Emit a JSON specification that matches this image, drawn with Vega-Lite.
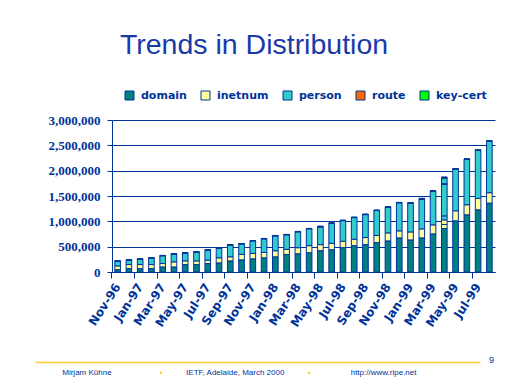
{
  "$schema": "https://vega.github.io/schema/vega-lite/v6.json",
  "background": "white",
  "padding": {"left": 5, "top": 30, "right": 10, "bottom": 5},
  "title": {"text": "Trends in Distribution", "fontSize": 28.5, "font": "Liberation Sans", "fontWeight": "normal", "color": "#1a3aa8", "anchor": "middle", "dx": -27, "offset": 31},
  "config": {"view": {"stroke": null}, "font": "Liberation Sans"},
  "spacing": 27,
  "vconcat": [
    {
      "width": 383,
      "height": 152,
      "data": {"values": [
        {"month": "Nov-96", "type": "domain", "count": 47000, "seg": 1},
        {"month": "Nov-96", "type": "inetnum", "count": 73000, "seg": 2},
        {"month": "Nov-96", "type": "person", "count": 93000, "seg": 3},
        {"month": "Nov-96", "type": "route", "count": 5000, "seg": 4},
        {"month": "Nov-96", "type": "key-cert", "count": 3000, "seg": 5},
        {"month": "Dec-96", "type": "domain", "count": 67000, "seg": 1},
        {"month": "Dec-96", "type": "inetnum", "count": 80000, "seg": 2},
        {"month": "Dec-96", "type": "person", "count": 87000, "seg": 3},
        {"month": "Dec-96", "type": "route", "count": 5000, "seg": 4},
        {"month": "Dec-96", "type": "key-cert", "count": 3000, "seg": 5},
        {"month": "Jan-97", "type": "domain", "count": 67000, "seg": 1},
        {"month": "Jan-97", "type": "inetnum", "count": 80000, "seg": 2},
        {"month": "Jan-97", "type": "person", "count": 107000, "seg": 3},
        {"month": "Jan-97", "type": "route", "count": 5000, "seg": 4},
        {"month": "Jan-97", "type": "key-cert", "count": 3000, "seg": 5},
        {"month": "Feb-97", "type": "domain", "count": 67000, "seg": 1},
        {"month": "Feb-97", "type": "inetnum", "count": 80000, "seg": 2},
        {"month": "Feb-97", "type": "person", "count": 127000, "seg": 3},
        {"month": "Feb-97", "type": "route", "count": 5000, "seg": 4},
        {"month": "Feb-97", "type": "key-cert", "count": 3000, "seg": 5},
        {"month": "Mar-97", "type": "domain", "count": 100000, "seg": 1},
        {"month": "Mar-97", "type": "inetnum", "count": 67000, "seg": 2},
        {"month": "Mar-97", "type": "person", "count": 153000, "seg": 3},
        {"month": "Mar-97", "type": "route", "count": 5000, "seg": 4},
        {"month": "Mar-97", "type": "key-cert", "count": 3000, "seg": 5},
        {"month": "Apr-97", "type": "domain", "count": 100000, "seg": 1},
        {"month": "Apr-97", "type": "inetnum", "count": 100000, "seg": 2},
        {"month": "Apr-97", "type": "person", "count": 153000, "seg": 3},
        {"month": "Apr-97", "type": "route", "count": 5000, "seg": 4},
        {"month": "Apr-97", "type": "key-cert", "count": 3000, "seg": 5},
        {"month": "May-97", "type": "domain", "count": 147000, "seg": 1},
        {"month": "May-97", "type": "inetnum", "count": 73000, "seg": 2},
        {"month": "May-97", "type": "person", "count": 153000, "seg": 3},
        {"month": "May-97", "type": "route", "count": 5000, "seg": 4},
        {"month": "May-97", "type": "key-cert", "count": 3000, "seg": 5},
        {"month": "Jun-97", "type": "domain", "count": 147000, "seg": 1},
        {"month": "Jun-97", "type": "inetnum", "count": 73000, "seg": 2},
        {"month": "Jun-97", "type": "person", "count": 173000, "seg": 3},
        {"month": "Jun-97", "type": "route", "count": 5000, "seg": 4},
        {"month": "Jun-97", "type": "key-cert", "count": 3000, "seg": 5},
        {"month": "Jul-97", "type": "domain", "count": 167000, "seg": 1},
        {"month": "Jul-97", "type": "inetnum", "count": 67000, "seg": 2},
        {"month": "Jul-97", "type": "person", "count": 200000, "seg": 3},
        {"month": "Jul-97", "type": "route", "count": 5000, "seg": 4},
        {"month": "Jul-97", "type": "key-cert", "count": 3000, "seg": 5},
        {"month": "Aug-97", "type": "domain", "count": 180000, "seg": 1},
        {"month": "Aug-97", "type": "inetnum", "count": 100000, "seg": 2},
        {"month": "Aug-97", "type": "person", "count": 187000, "seg": 3},
        {"month": "Aug-97", "type": "route", "count": 5000, "seg": 4},
        {"month": "Aug-97", "type": "key-cert", "count": 3000, "seg": 5},
        {"month": "Sep-97", "type": "domain", "count": 220000, "seg": 1},
        {"month": "Sep-97", "type": "inetnum", "count": 80000, "seg": 2},
        {"month": "Sep-97", "type": "person", "count": 233000, "seg": 3},
        {"month": "Sep-97", "type": "route", "count": 5000, "seg": 4},
        {"month": "Sep-97", "type": "key-cert", "count": 3000, "seg": 5},
        {"month": "Oct-97", "type": "domain", "count": 240000, "seg": 1},
        {"month": "Oct-97", "type": "inetnum", "count": 107000, "seg": 2},
        {"month": "Oct-97", "type": "person", "count": 207000, "seg": 3},
        {"month": "Oct-97", "type": "route", "count": 5000, "seg": 4},
        {"month": "Oct-97", "type": "key-cert", "count": 3000, "seg": 5},
        {"month": "Nov-97", "type": "domain", "count": 260000, "seg": 1},
        {"month": "Nov-97", "type": "inetnum", "count": 107000, "seg": 2},
        {"month": "Nov-97", "type": "person", "count": 247000, "seg": 3},
        {"month": "Nov-97", "type": "route", "count": 5000, "seg": 4},
        {"month": "Nov-97", "type": "key-cert", "count": 3000, "seg": 5},
        {"month": "Dec-97", "type": "domain", "count": 280000, "seg": 1},
        {"month": "Dec-97", "type": "inetnum", "count": 107000, "seg": 2},
        {"month": "Dec-97", "type": "person", "count": 267000, "seg": 3},
        {"month": "Dec-97", "type": "route", "count": 5000, "seg": 4},
        {"month": "Dec-97", "type": "key-cert", "count": 3000, "seg": 5},
        {"month": "Jan-98", "type": "domain", "count": 300000, "seg": 1},
        {"month": "Jan-98", "type": "inetnum", "count": 120000, "seg": 2},
        {"month": "Jan-98", "type": "person", "count": 293000, "seg": 3},
        {"month": "Jan-98", "type": "route", "count": 5000, "seg": 4},
        {"month": "Jan-98", "type": "key-cert", "count": 3000, "seg": 5},
        {"month": "Feb-98", "type": "domain", "count": 347000, "seg": 1},
        {"month": "Feb-98", "type": "inetnum", "count": 100000, "seg": 2},
        {"month": "Feb-98", "type": "person", "count": 287000, "seg": 3},
        {"month": "Feb-98", "type": "route", "count": 5000, "seg": 4},
        {"month": "Feb-98", "type": "key-cert", "count": 3000, "seg": 5},
        {"month": "Mar-98", "type": "domain", "count": 360000, "seg": 1},
        {"month": "Mar-98", "type": "inetnum", "count": 120000, "seg": 2},
        {"month": "Mar-98", "type": "person", "count": 313000, "seg": 3},
        {"month": "Mar-98", "type": "route", "count": 5000, "seg": 4},
        {"month": "Mar-98", "type": "key-cert", "count": 3000, "seg": 5},
        {"month": "Apr-98", "type": "domain", "count": 380000, "seg": 1},
        {"month": "Apr-98", "type": "inetnum", "count": 140000, "seg": 2},
        {"month": "Apr-98", "type": "person", "count": 333000, "seg": 3},
        {"month": "Apr-98", "type": "route", "count": 5000, "seg": 4},
        {"month": "Apr-98", "type": "key-cert", "count": 3000, "seg": 5},
        {"month": "May-98", "type": "domain", "count": 420000, "seg": 1},
        {"month": "May-98", "type": "inetnum", "count": 120000, "seg": 2},
        {"month": "May-98", "type": "person", "count": 345000, "seg": 3},
        {"month": "May-98", "type": "route", "count": 15000, "seg": 4},
        {"month": "May-98", "type": "key-cert", "count": 3000, "seg": 5},
        {"month": "Jun-98", "type": "domain", "count": 440000, "seg": 1},
        {"month": "Jun-98", "type": "inetnum", "count": 127000, "seg": 2},
        {"month": "Jun-98", "type": "person", "count": 393000, "seg": 3},
        {"month": "Jun-98", "type": "route", "count": 5000, "seg": 4},
        {"month": "Jun-98", "type": "key-cert", "count": 3000, "seg": 5},
        {"month": "Jul-98", "type": "domain", "count": 480000, "seg": 1},
        {"month": "Jul-98", "type": "inetnum", "count": 127000, "seg": 2},
        {"month": "Jul-98", "type": "person", "count": 407000, "seg": 3},
        {"month": "Jul-98", "type": "route", "count": 5000, "seg": 4},
        {"month": "Jul-98", "type": "key-cert", "count": 3000, "seg": 5},
        {"month": "Aug-98", "type": "domain", "count": 520000, "seg": 1},
        {"month": "Aug-98", "type": "inetnum", "count": 127000, "seg": 2},
        {"month": "Aug-98", "type": "person", "count": 427000, "seg": 3},
        {"month": "Aug-98", "type": "route", "count": 5000, "seg": 4},
        {"month": "Aug-98", "type": "key-cert", "count": 3000, "seg": 5},
        {"month": "Sep-98", "type": "domain", "count": 540000, "seg": 1},
        {"month": "Sep-98", "type": "inetnum", "count": 140000, "seg": 2},
        {"month": "Sep-98", "type": "person", "count": 453000, "seg": 3},
        {"month": "Sep-98", "type": "route", "count": 5000, "seg": 4},
        {"month": "Sep-98", "type": "key-cert", "count": 3000, "seg": 5},
        {"month": "Oct-98", "type": "domain", "count": 580000, "seg": 1},
        {"month": "Oct-98", "type": "inetnum", "count": 140000, "seg": 2},
        {"month": "Oct-98", "type": "person", "count": 493000, "seg": 3},
        {"month": "Oct-98", "type": "route", "count": 5000, "seg": 4},
        {"month": "Oct-98", "type": "key-cert", "count": 3000, "seg": 5},
        {"month": "Nov-98", "type": "domain", "count": 614000, "seg": 1},
        {"month": "Nov-98", "type": "inetnum", "count": 158000, "seg": 2},
        {"month": "Nov-98", "type": "person", "count": 508000, "seg": 3},
        {"month": "Nov-98", "type": "route", "count": 5000, "seg": 4},
        {"month": "Nov-98", "type": "key-cert", "count": 3000, "seg": 5},
        {"month": "Dec-98", "type": "domain", "count": 673000, "seg": 1},
        {"month": "Dec-98", "type": "inetnum", "count": 139000, "seg": 2},
        {"month": "Dec-98", "type": "person", "count": 554000, "seg": 3},
        {"month": "Dec-98", "type": "route", "count": 5000, "seg": 4},
        {"month": "Dec-98", "type": "key-cert", "count": 3000, "seg": 5},
        {"month": "Jan-99", "type": "domain", "count": 633000, "seg": 1},
        {"month": "Jan-99", "type": "inetnum", "count": 158000, "seg": 2},
        {"month": "Jan-99", "type": "person", "count": 569000, "seg": 3},
        {"month": "Jan-99", "type": "route", "count": 5000, "seg": 4},
        {"month": "Jan-99", "type": "key-cert", "count": 3000, "seg": 5},
        {"month": "Feb-99", "type": "domain", "count": 673000, "seg": 1},
        {"month": "Feb-99", "type": "inetnum", "count": 178000, "seg": 2},
        {"month": "Feb-99", "type": "person", "count": 580000, "seg": 3},
        {"month": "Feb-99", "type": "route", "count": 20000, "seg": 4},
        {"month": "Feb-99", "type": "key-cert", "count": 3000, "seg": 5},
        {"month": "Mar-99", "type": "domain", "count": 752000, "seg": 1},
        {"month": "Mar-99", "type": "inetnum", "count": 178000, "seg": 2},
        {"month": "Mar-99", "type": "person", "count": 667000, "seg": 3},
        {"month": "Mar-99", "type": "route", "count": 5000, "seg": 4},
        {"month": "Mar-99", "type": "key-cert", "count": 3000, "seg": 5},
        {"month": "Apr-99", "type": "domain", "count": 858000, "seg": 1},
        {"month": "Apr-99", "type": "inetnum", "count": 79000, "seg": 2},
        {"month": "Apr-99", "type": "inetnum", "count": 92000, "seg": 3},
        {"month": "Apr-99", "type": "person", "count": 79000, "seg": 4},
        {"month": "Apr-99", "type": "person", "count": 627000, "seg": 5},
        {"month": "Apr-99", "type": "route", "count": 5000, "seg": 6},
        {"month": "Apr-99", "type": "key-cert", "count": 3000, "seg": 7},
        {"month": "Apr-99", "type": "person", "count": 106000, "seg": 8},
        {"month": "Apr-99", "type": "route", "count": 20000, "seg": 9},
        {"month": "Apr-99", "type": "key-cert", "count": 3000, "seg": 10},
        {"month": "May-99", "type": "domain", "count": 1010000, "seg": 1},
        {"month": "May-99", "type": "inetnum", "count": 198000, "seg": 2},
        {"month": "May-99", "type": "person", "count": 825000, "seg": 3},
        {"month": "May-99", "type": "route", "count": 5000, "seg": 4},
        {"month": "May-99", "type": "key-cert", "count": 3000, "seg": 5},
        {"month": "Jun-99", "type": "domain", "count": 1129000, "seg": 1},
        {"month": "Jun-99", "type": "inetnum", "count": 198000, "seg": 2},
        {"month": "Jun-99", "type": "person", "count": 897000, "seg": 3},
        {"month": "Jun-99", "type": "route", "count": 5000, "seg": 4},
        {"month": "Jun-99", "type": "key-cert", "count": 3000, "seg": 5},
        {"month": "Jul-99", "type": "domain", "count": 1228000, "seg": 1},
        {"month": "Jul-99", "type": "inetnum", "count": 224000, "seg": 2},
        {"month": "Jul-99", "type": "person", "count": 950000, "seg": 3},
        {"month": "Jul-99", "type": "route", "count": 5000, "seg": 4},
        {"month": "Jul-99", "type": "key-cert", "count": 3000, "seg": 5},
        {"month": "Aug-99", "type": "domain", "count": 1360000, "seg": 1},
        {"month": "Aug-99", "type": "inetnum", "count": 205000, "seg": 2},
        {"month": "Aug-99", "type": "person", "count": 1016000, "seg": 3},
        {"month": "Aug-99", "type": "route", "count": 5000, "seg": 4},
        {"month": "Aug-99", "type": "key-cert", "count": 3000, "seg": 5}
      ]},
      "mark": {"type": "bar", "stroke": "#003399", "strokeWidth": 1},
      "encoding": {
        "x": {
          "field": "month", "type": "nominal", "sort": null,
          "scale": {"paddingInner": 0.5, "paddingOuter": 0.25},
          "axis": {
            "title": null,
            "values": ["Nov-96", "Jan-97", "Mar-97", "May-97", "Jul-97", "Sep-97", "Nov-97", "Jan-98", "Mar-98", "May-98", "Jul-98", "Sep-98", "Nov-98", "Jan-99", "Mar-99", "May-99", "Jul-99"],
            "bandPosition": -0.5,
            "labelAngle": -57,
            "labelFont": "DejaVu Sans", "labelFontWeight": "bold", "labelFontSize": 12, "labelColor": "#003399",
            "tickColor": "#003399", "tickSize": 6, "domainColor": "#003399", "labelPadding": 6
          }
        },
        "y": {
          "field": "count", "type": "quantitative", "stack": "zero",
          "scale": {"domain": [0, 3000000]},
          "axis": {
            "title": null,
            "values": [0, 500000, 1000000, 1500000, 2000000, 2500000, 3000000],
            "format": ",d",
            "labelFont": "Liberation Serif", "labelFontWeight": "bold", "labelFontSize": 13, "labelColor": "#003399",
            "tickColor": "#003399", "tickSize": 5, "labelPadding": 7,
            "domainColor": "#003399", "gridColor": "#003399", "gridWidth": 1, "gridOpacity": 1,
            "minExtent": 107
          }
        },
        "color": {
          "field": "type", "type": "nominal",
          "scale": {"domain": ["domain", "inetnum", "person", "route", "key-cert"], "range": ["#008080", "#FFFF99", "#33CCCC", "#FF6600", "#00FF00"]},
          "legend": {
            "orient": "none", "legendX": 12, "legendY": -30, "direction": "horizontal", "title": null,
            "symbolType": "square", "symbolSize": 81, "symbolStrokeColor": "#003399", "symbolStrokeWidth": 1,
            "labelFont": "DejaVu Sans", "labelFontWeight": "bold", "labelFontSize": 11, "labelColor": "#003399",
            "columnPadding": 12, "labelOffset": 6
          }
        },
        "order": {"field": "seg", "type": "quantitative"}
      }
    },
    {
      "width": 368,
      "height": 22,
      "title": {"text": "9", "anchor": "end", "frame": "group", "dx": 14, "fontSize": 9, "fontWeight": "normal", "color": "#003399", "offset": -3},
      "data": {"values": [
        {"part": 1, "label": "Mirjam Kühne"},
        {"part": 2, "label": "▪"},
        {"part": 3, "label": "IETF, Adelaide, March 2000"},
        {"part": 4, "label": "▪"},
        {"part": 5, "label": "http://www.ripe.net"}
      ]},
      "mark": {"type": "text", "font": "Liberation Sans", "fontSize": 8},
      "encoding": {
        "x": {
          "field": "part", "type": "ordinal",
          "scale": {"type": "point", "range": [-77, 368], "padding": 1.0, "align": 0.35},
          "axis": {"orient": "top", "labels": false, "ticks": false, "title": null, "domainColor": "#FFCC33", "domainWidth": 1.5}
        },
        "text": {"field": "label"},
        "color": {"condition": {"test": "datum.label === '▪'", "value": "#FFCC00"}, "value": "#003399"}
      }
    }
  ]
}
